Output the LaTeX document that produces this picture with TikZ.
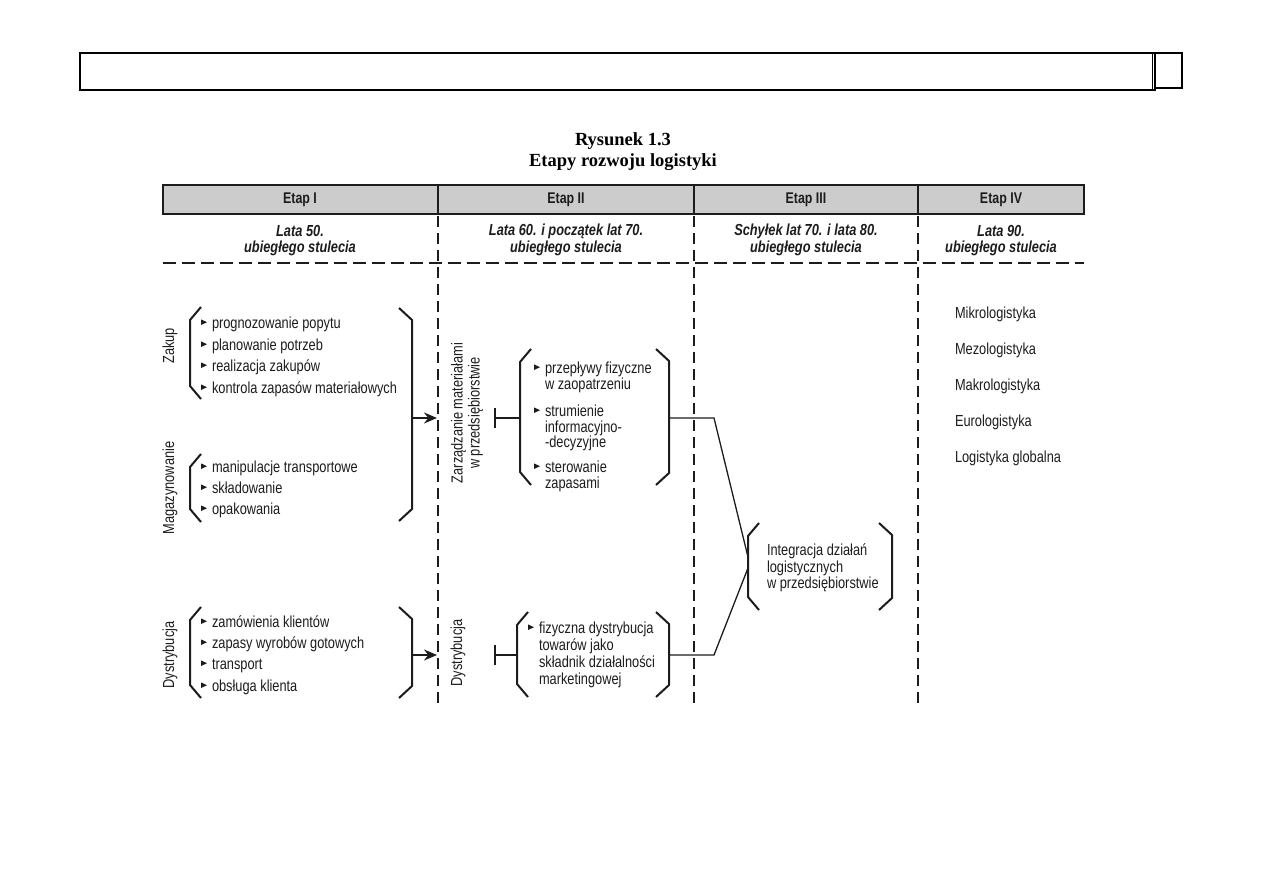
\documentclass[tikz,border=0pt]{standalone}
\usepackage{fontspec}
\setmainfont{Liberation Sans}
\newfontfamily\cond{Liberation Sans}[FakeStretch=0.8]
\newfontfamily\tfont{Liberation Serif}
\usetikzlibrary{arrows.meta}
\definecolor{ink}{RGB}{28,28,28}
\newcommand\lbrk[3]{\draw[brk] (#1+11,#2) -- (#1,#2+13) -- (#1,#3-13) -- (#1+11,#3);}
\newcommand\rbrk[3]{\draw[brk] (#1-13,#2) -- (#1,#2+12) -- (#1,#3-12) -- (#1-13,#3);}
\newcommand\bul[1]{\fill[ink] ([xshift=-11pt,yshift=3pt]#1.base west) -- ([xshift=-5pt,yshift=5.8pt]#1.base west) -- ([xshift=-11pt,yshift=8.6pt]#1.base west) -- cycle;}
\tikzset{
  every node/.style={inner sep=0pt, outer sep=0pt},
  txt/.style={anchor=base west, font=\cond\fontsize{16}{17}\selectfont, text=ink},
  rot/.style={rotate=90, font=\cond\fontsize{16}{17}\selectfont, text=ink},
  head/.style={font=\cond\bfseries\fontsize{15.5}{17}\selectfont, text=ink},
  sub/.style={font=\cond\bfseries\itshape\fontsize{16}{17}\selectfont, text=ink},
  brk/.style={line width=2pt, draw=ink, line join=miter},
  vdash/.style={line width=2pt, draw=ink, dash pattern=on 11pt off 6pt},
  hdash/.style={line width=2.4pt, draw=ink, dash pattern=on 13pt off 6pt},
  conn/.style={line width=1.3pt, draw=ink},
  arr/.style={line width=1.5pt, draw=ink, -{Stealth[length=13pt,width=11pt]}},
}
\begin{document}
\begin{tikzpicture}[x=1pt,y=-1pt]
\useasboundingbox (0,0) rectangle (1263,893);
% top frame
\draw[line width=1.6pt] (80,53) rectangle (1155,90);
\draw[line width=1pt] (1152,53) -- (1152,90);
\draw[line width=1.6pt] (1155,53) rectangle (1182,88);
% title
\node[font=\tfont\bfseries\fontsize{18.5}{20}\selectfont] (t1) at (623,141) {Rysunek 1.3};
\node[font=\tfont\bfseries\fontsize{18.5}{20}\selectfont] (t2) at (623,162) {Etapy rozwoju logistyki};
% header band
\draw[line width=2.6pt, draw=ink, fill=black!20] (163,185) rectangle (1084,214);
\foreach \x in {438,694,918} \draw[line width=1.4pt, ink] (\x,185) -- (\x,214);
\node[head] (h1) at (300,200) {Etap I};
\node[head] (h2) at (566,200) {Etap II};
\node[head] (h3) at (806,200) {Etap III};
\node[head] (h4) at (1001,200) {Etap IV};
\node[sub] (s1a) at (300,231) {Lata 50.};
\node[sub] (s1b) at (300,248) {ubiegłego stulecia};
\node[sub] (s2a) at (566,231) {Lata 60. i początek lat 70.};
\node[sub] (s2b) at (566,248) {ubiegłego stulecia};
\node[sub] (s3a) at (806,231) {Schyłek lat 70. i lata 80.};
\node[sub] (s3b) at (806,248) {ubiegłego stulecia};
\node[sub] (s4a) at (1001,231) {Lata 90.};
\node[sub] (s4b) at (1001,248) {ubiegłego stulecia};
% dashed lines
\draw[hdash] (163,263) -- (1084,263);
\foreach \x in {438,694,918} \draw[vdash] (\x,216) -- (\x,704);
% ---------- column I ----------
\node[rot] (zak) at (170,346) {Zakup};
\node[rot] (mag) at (170,488) {Magazynowanie};
\node[rot] (dys1) at (170,655) {Dystrybucja};
\lbrk{190}{307}{399}
\lbrk{190}{454}{522}
\lbrk{190}{607}{698}
\rbrk{412}{308}{521}
\rbrk{412}{607}{698}
\node[txt] (a1) at (212,328) {prognozowanie popytu};
\node[txt] (a2) at (212,350) {planowanie potrzeb};
\node[txt] (a3) at (212,371) {realizacja zakupów};
\node[txt] (a4) at (212,393) {kontrola zapasów materiałowych};
\node[txt] (b1) at (212,472) {manipulacje transportowe};
\node[txt] (b2) at (212,493) {składowanie};
\node[txt] (b3) at (212,514) {opakowania};
\node[txt] (c1) at (212,627) {zamówienia klientów};
\node[txt] (c2) at (212,648) {zapasy wyrobów gotowych};
\node[txt] (c3) at (212,669) {transport};
\node[txt] (c4) at (212,691) {obsługa klienta};
\foreach \n in {a1,a2,a3,a4,b1,b2,b3,c1,c2,c3,c4} {\bul{\n}}
\coordinate (r1) at (412,418);
\coordinate (d1) at (437,418);
\coordinate (r2) at (412,655);
\coordinate (d2) at (437,655);
\draw[arr] (r1) -- (d1);
\draw[arr] (r2) -- (d2);
% ---------- column II ----------
\node[rot, align=center] (zm) at (467,413) {Zarządzanie materiałami\\w przedsiębiorstwie};
\node[rot] (dys2) at (458,653) {Dystrybucja};
\coordinate (tb1) at (495,418);
\coordinate (lb1) at (520,418);
\coordinate (tb2) at (495,655);
\coordinate (lb2) at (517,655);
\draw[conn] ([yshift=-10pt]tb1) -- ([yshift=10pt]tb1);
\draw[conn] (tb1) -- (lb1);
\draw[conn] ([yshift=-10pt]tb2) -- ([yshift=10pt]tb2);
\draw[conn] (tb2) -- (lb2);
\lbrk{520}{349}{485}
\rbrk{669}{349}{485}
\lbrk{517}{612}{697}
\rbrk{669}{612}{697}
\node[txt] (m1a) at (545,373) {przepływy fizyczne};
\node[txt] (m1b) at (545,389) {w zaopatrzeniu};
\node[txt] (m2a) at (545,416) {strumienie};
\node[txt] (m2b) at (545,432) {informacyjno-};
\node[txt] (m2c) at (545,447) {-decyzyjne};
\node[txt] (m3a) at (545,472) {sterowanie};
\node[txt] (m3b) at (545,488) {zapasami};
\bul{m1a}\bul{m2a}\bul{m3a}
\node[txt] (f1) at (539,633) {fizyczna dystrybucja};
\node[txt] (f2) at (539,650) {towarów jako};
\node[txt] (f3) at (539,667) {składnik działalności};
\node[txt] (f4) at (539,684) {marketingowej};
\bul{f1}
% ---------- column III ----------
\lbrk{748}{523}{610}
\rbrk{892}{523}{610}
\node[txt] (i1) at (767,555) {Integracja działań};
\node[txt] (i2) at (767,572) {logistycznych};
\node[txt] (i3) at (767,588) {w przedsiębiorstwie};
\coordinate (o1) at (669,418);
\coordinate (k1) at (714,418);
\coordinate (e1) at (748,557);
\coordinate (o2) at (669,655);
\coordinate (k2) at (714,655);
\coordinate (e2) at (748,568);
\draw[conn] (o1) -- (k1) -- (e1);
\draw[conn] (o2) -- (k2) -- (e2);
% ---------- column IV ----------
\node[txt] (g1) at (955,318) {Mikrologistyka};
\node[txt] (g2) at (955,354) {Mezologistyka};
\node[txt] (g3) at (955,390) {Makrologistyka};
\node[txt] (g4) at (955,426) {Eurologistyka};
\node[txt] (g5) at (955,462) {Logistyka globalna};
\end{tikzpicture}
\end{document}
